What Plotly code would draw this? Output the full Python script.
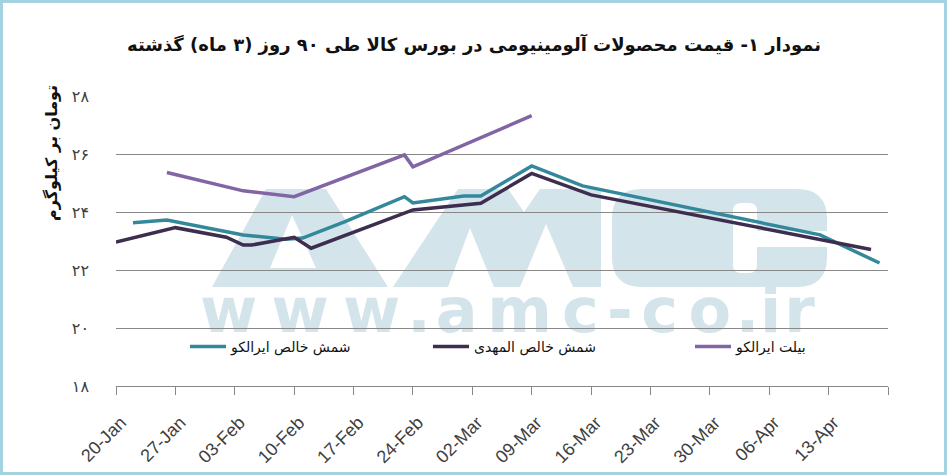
import plotly.graph_objects as go

# ---- data ----
teal_dates = ["2020-01-22", "2020-01-26", "2020-02-04", "2020-02-09", "2020-02-11",
              "2020-02-16", "2020-02-23", "2020-02-24", "2020-03-01", "2020-03-03",
              "2020-03-09", "2020-03-15", "2020-04-12", "2020-04-19"]
teal_vals = [23.63, 23.72, 23.21, 23.06, 23.10, 23.67, 24.53, 24.31, 24.55, 24.55,
             25.59, 24.90, 23.21, 22.24]

dark_dates = ["2020-01-20", "2020-01-27", "2020-02-02", "2020-02-04", "2020-02-05",
              "2020-02-10", "2020-02-12", "2020-02-24", "2020-03-03", "2020-03-09",
              "2020-03-16", "2020-04-18"]
dark_vals = [22.96, 23.46, 23.13, 22.86, 22.86, 23.13, 22.75, 24.07, 24.30, 25.33,
             24.59, 22.71]

purple_dates = ["2020-01-26", "2020-02-04", "2020-02-10", "2020-02-23", "2020-02-24",
                "2020-03-09"]
purple_vals = [25.36, 24.73, 24.53, 25.97, 25.56, 27.32]

series_names = ["شمش خالص ایرالکو", "شمش خالص المهدی", "بیلت ایرالکو"]

x_tickvals = ["2020-01-20", "2020-01-27", "2020-02-03", "2020-02-10", "2020-02-17",
              "2020-02-24", "2020-03-02", "2020-03-09", "2020-03-16", "2020-03-23",
              "2020-03-30", "2020-04-06", "2020-04-13", "2020-04-20"]
x_ticktext = ["20-Jan", "27-Jan", "03-Feb", "10-Feb", "17-Feb", "24-Feb", "02-Mar",
              "09-Mar", "16-Mar", "23-Mar", "30-Mar", "06-Apr", "13-Apr", ""]

y_tickvals = [18, 20, 22, 24, 26, 28]
y_ticktext = ["۱۸", "۲۰", "۲۲", "۲۴", "۲۶", "۲۸"]

title_text = "نمودار ۱- قیمت محصولات آلومینیومی در بورس کالا طی ۹۰ روز (۳ ماه) گذشته"
ytitle_text = "تومان بر کیلوگرم"

TEAL = "#33889B"
DARK = "#3D2D4E"
PURPLE = "#8165A4"
WM = "#D4E4EB"
GRID = "#888888"

# plot area in pixels
W, H = 947, 475
L, R, T, B = 116, 888, 96, 386


def px(x):
    return (x - L) / (R - L)


def py(y):
    return (B - y) / (B - T)


def poly(points):
    return "M " + " L ".join(f"{px(x):.4f},{py(y):.4f}" for x, y in points) + " Z"


def rrect(x0, y0, x1, y1, r):
    pts = [
        f"M {px(x0 + r):.4f},{py(y0):.4f}",
        f"L {px(x1 - r):.4f},{py(y0):.4f}",
        f"Q {px(x1):.4f},{py(y0):.4f} {px(x1):.4f},{py(y0 + r):.4f}",
        f"L {px(x1):.4f},{py(y1 - r):.4f}",
        f"Q {px(x1):.4f},{py(y1):.4f} {px(x1 - r):.4f},{py(y1):.4f}",
        f"L {px(x0 + r):.4f},{py(y1):.4f}",
        f"Q {px(x0):.4f},{py(y1):.4f} {px(x0):.4f},{py(y1 - r):.4f}",
        f"L {px(x0):.4f},{py(y0 + r):.4f}",
        f"Q {px(x0):.4f},{py(y0):.4f} {px(x0 + r):.4f},{py(y0):.4f}",
        "Z",
    ]
    return " ".join(pts)


shapes = []


def wm_path(path, color=WM):
    shapes.append(dict(type="path", path=path, xref="paper", yref="paper",
                       fillcolor=color, line=dict(width=0), layer="below"))


# watermark "AMC"
wm_path(poly([(212, 287), (266, 189), (326, 189), (388, 287)]))
wm_path(poly([(393, 287), (458, 189), (508, 189), (524, 212), (540, 189),
              (601, 189), (601, 287)]))
wm_path(rrect(612, 189, 827, 287, 30))
# counters
wm_path(poly([(292, 215), (270, 268), (316, 268)]), "white")
wm_path(poly([(470, 228), (448, 287), (494, 287)]), "white")
wm_path(poly([(546, 224), (520, 287), (573, 287)]), "white")
wm_path(rrect(733, 203, 757, 273, 8), "white")
wm_path(poly([(750, 231), (828, 231), (828, 247), (750, 247)]), "white")

# watermark "www.amc-co.ir", one glyph per slot
wm_chars = list("www.amc-co.ir")
wm_widths = [74, 74, 74, 24, 54, 76, 50, 32, 50, 54, 24, 24, 36]
scale = (817 - 193) / sum(wm_widths)
cx = 193
for ch, w in zip(wm_chars, wm_widths):
    w = w * scale
    shapes.append(dict(type="rect", xref="paper", yref="paper",
                       x0=px(cx), x1=px(cx + w), y0=py(328), y1=py(284),
                       line=dict(width=0), layer="below",
                       label=dict(text=ch, textposition="middle center",
                                  font=dict(family="DejaVu Sans", size=62,
                                            color=WM, weight="bold"))))
    cx += w

# outer frame
shapes.append(dict(type="rect", xref="paper", yref="paper",
                   x0=px(1.5), x1=px(945.5), y0=py(473.5), y1=py(1.5),
                   line=dict(color="#A3D2E3", width=3), layer="above"))

fig = go.Figure()
for name, xs, ys, color, lg in [(series_names[0], teal_dates, teal_vals, TEAL, "legend"),
                                (series_names[1], dark_dates, dark_vals, DARK, "legend2"),
                                (series_names[2], purple_dates, purple_vals, PURPLE, "legend3")]:
    fig.add_trace(go.Scatter(x=xs, y=ys, mode="lines", name=name, legend=lg,
                             line=dict(color=color, width=3.5)))

legend_style = dict(orientation="h", y=py(347), xanchor="left", yanchor="middle",
                    bgcolor="rgba(0,0,0,0)", itemwidth=36,
                    font=dict(family="DejaVu Sans", size=14, color="#111111"))

fig.update_layout(
    width=W, height=H,
    margin=dict(l=L, r=W - R, t=T, b=H - B, autoexpand=False),
    paper_bgcolor="white", plot_bgcolor="white",
    font=dict(family="DejaVu Sans", color="#404040"),
    shapes=shapes,
    showlegend=True,
    legend=dict(x=px(185), **legend_style),
    legend2=dict(x=px(428), **legend_style),
    legend3=dict(x=px(690), **legend_style),
    annotations=[
        dict(text=title_text, xref="paper", yref="paper", x=px(474), y=py(45),
             showarrow=False, xanchor="center", yanchor="middle",
             font=dict(family="DejaVu Sans", size=18, color="#111111", weight="bold")),
        dict(text=ytitle_text, xref="paper", yref="paper", x=px(51), y=py(153),
             showarrow=False, textangle=-90, xanchor="center", yanchor="middle",
             font=dict(family="DejaVu Sans", size=16, color="#111111", weight="bold")),
    ],
)

fig.update_xaxes(
    type="date", range=["2020-01-20", "2020-04-20"], automargin=False,
    tickvals=x_tickvals, ticktext=x_ticktext, tickangle=-45,
    ticks="outside", ticklen=8, tickcolor=GRID, tickwidth=1,
    showline=True, linecolor=GRID, linewidth=1, showgrid=False, zeroline=False,
    ticklabelstandoff=10, ticklabelshift=5,
    tickfont=dict(family="Liberation Sans", size=18, color="#404040"),
)
fig.update_yaxes(
    range=[18, 28], tickvals=y_tickvals, ticktext=y_ticktext, automargin=False,
    showgrid=True, gridcolor=GRID, gridwidth=1, zeroline=False, showline=False,
    ticks="", ticklabelstandoff=26,
    tickfont=dict(family="DejaVu Sans", size=16, color="#404040"),
)

fig.write_html("out.html", config={"displayModeBar": False},
               post_script="document.body.style.margin='0px';")
